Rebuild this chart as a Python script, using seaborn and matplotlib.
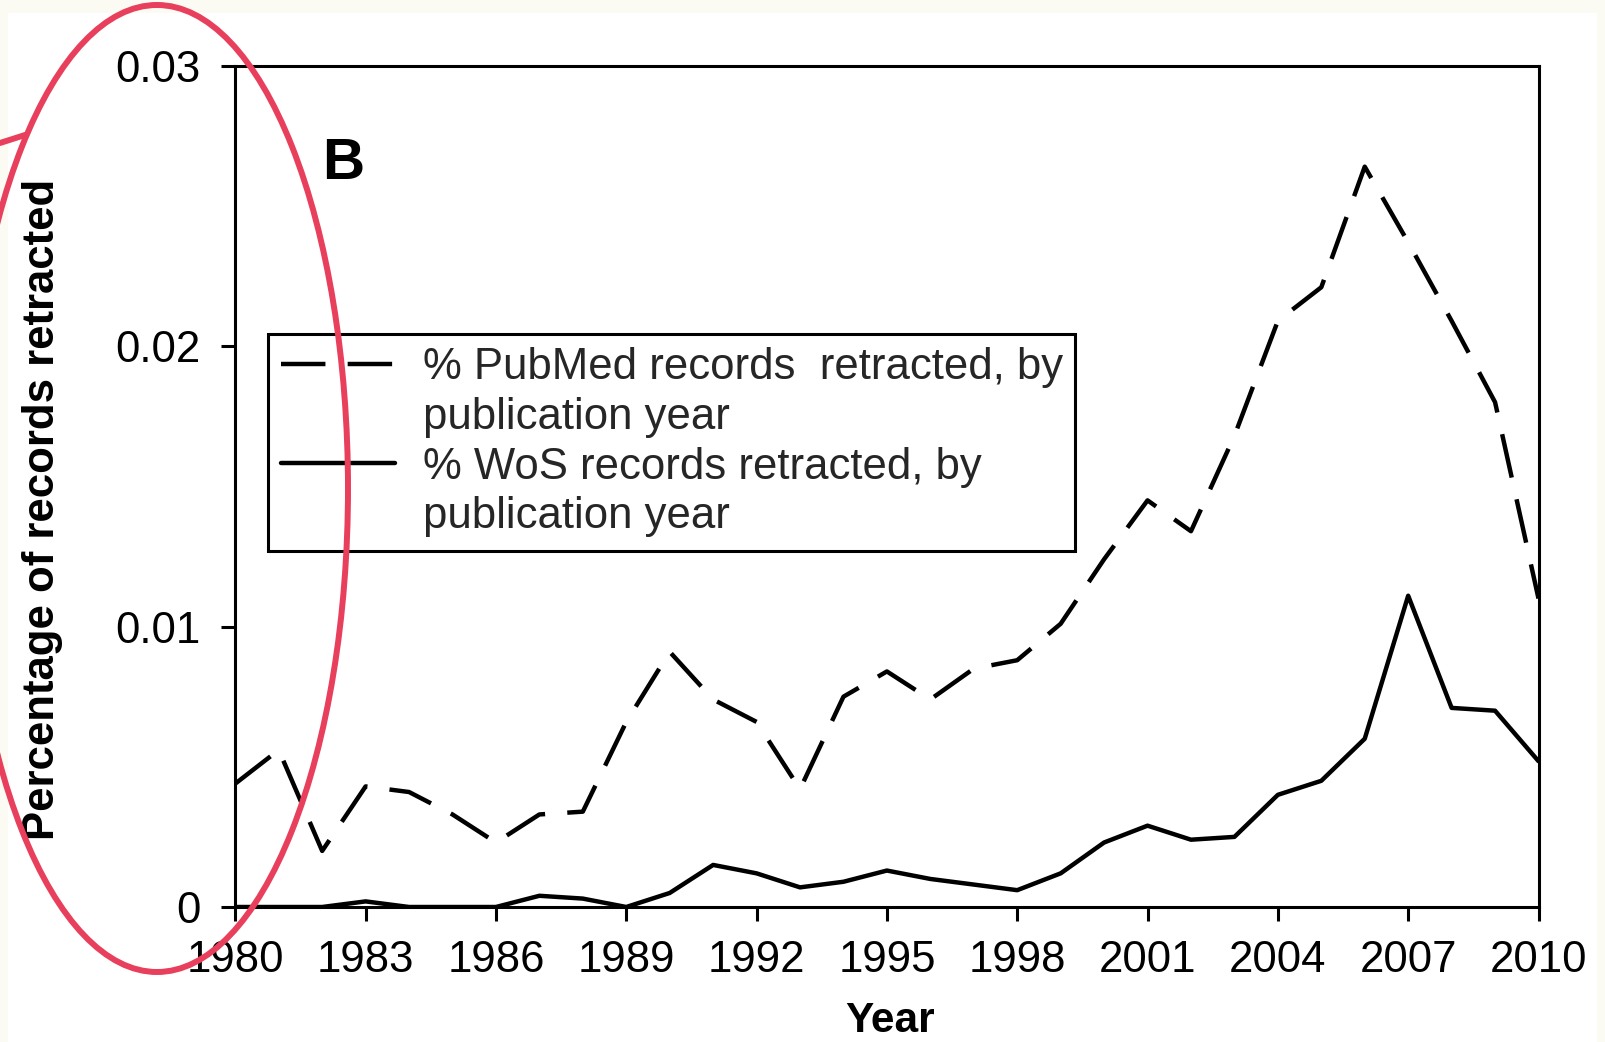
import numpy as np
import pandas as pd
import matplotlib
matplotlib.use("Agg")
import matplotlib.pyplot as plt
import seaborn as sns
from matplotlib.lines import Line2D
from matplotlib.patches import Ellipse, Rectangle

# ---- data ----
years = list(range(1980, 2011))
pubmed = [0.0044, 0.0056, 0.0020, 0.0043, 0.0041, 0.0033, 0.0023, 0.0033, 0.0034, 0.0066,
          0.0091, 0.0074, 0.0066, 0.0042, 0.0075, 0.0084, 0.0074, 0.0085, 0.0088, 0.0101,
          0.0124, 0.0145, 0.0134, 0.0168, 0.0209, 0.0221, 0.0264, 0.0237, 0.0209, 0.0180, 0.0110]
wos = [0.0, 0.0, 0.0, 0.0002, 0.0, 0.0, 0.0, 0.0004, 0.0003, 0.0,
       0.0005, 0.0015, 0.0012, 0.0007, 0.0009, 0.0013, 0.0010, 0.0008, 0.0006, 0.0012,
       0.0023, 0.0029, 0.0024, 0.0025, 0.0040, 0.0045, 0.0060, 0.0111, 0.0071, 0.0070, 0.0052]
series_names = ["PubMed", "WoS"]
legend_labels = ["% PubMed records  retracted, by", "publication year",
                 "% WoS records retracted, by", "publication year"]
x_ticks = list(range(1980, 2011, 3))
y_ticks = [0, 0.01, 0.02, 0.03]
y_tick_labels = ["0", "0.01", "0.02", "0.03"]

df = pd.DataFrame({
    "Year": years * 2,
    "value": pubmed + wos,
    "series": [series_names[0]] * len(years) + [series_names[1]] * len(years),
})

sns.set_style("white")
plt.rcParams["font.family"] = ["Liberation Sans", "DejaVu Sans"]

W, H = 1605, 1042
fig = plt.figure(figsize=(W / 100, H / 100), dpi=100)
fig.patch.set_facecolor("#FBFAF3")
# white page area (cream margins at top / left / right)
fig.add_artist(Rectangle((8 / W, 0), (1597 - 8) / W, (H - 13) / H,
                         transform=fig.transFigure, facecolor="white",
                         edgecolor="none", zorder=-10))

ax = fig.add_axes([235.3 / W, 1 - 907 / H, (1538.5 - 235.3) / W, (907 - 65.7) / H])
ax.set_facecolor("white")

lw = 3.2
dash = (10, 5)
sns.lineplot(data=df, x="Year", y="value", style="series",
             dashes={"PubMed": dash, "WoS": ""}, color="black",
             linewidth=lw, legend=False, ax=ax)

ax.set_xlim(1980, 2010)
ax.set_ylim(0, 0.03)
ax.set_xticks(x_ticks)
ax.set_xticklabels([str(t) for t in x_ticks])
ax.set_yticks(y_ticks)
ax.set_yticklabels(y_tick_labels)
ax.tick_params(axis="both", direction="out", length=10, width=2.2, colors="black",
               labelsize=31.5, top=False, right=False, bottom=True, left=True)
ax.tick_params(axis="x", pad=14)
ax.tick_params(axis="y", pad=15)
for sp in ax.spines.values():
    sp.set_visible(True)
    sp.set_linewidth(2.2)
    sp.set_color("black")

ax.set_xlabel("Year", fontsize=30.5, fontweight="bold", color="black")
ax.set_ylabel("Percentage of records retracted", fontsize=31.5, fontweight="bold", color="black")
ax.xaxis.set_label_coords(0.5024, -0.112)
ax.yaxis.set_label_coords(-0.1325, 0.473)

ax.text(0.0826, 0.883, "B", transform=ax.transAxes, fontsize=42, fontweight="bold",
        ha="center", va="center", color="black")

# legend
h_dash = Line2D([], [], color="black", linewidth=lw, dashes=dash)
h_solid = Line2D([], [], color="black", linewidth=lw)
h_blank = Line2D([], [], color="none")
leg = ax.legend([h_dash, h_blank, h_solid, h_blank], legend_labels,
                loc="upper left", bbox_to_anchor=(0.0251, 0.681 - 0.2556, 0.619, 0.2556),
                mode="expand", borderaxespad=0, fontsize=31.5, frameon=True,
                fancybox=False, framealpha=1, edgecolor="black",
                borderpad=0.3, labelspacing=0.2, handlelength=2.6, handletextpad=0.65)
leg.get_frame().set_linewidth(2.2)

# red annotation ellipse and pointer
fig.add_artist(Ellipse((157 / W, 1 - 488.5 / H), 382 / W, 967 / H,
                       transform=fig.transFigure, facecolor="none",
                       edgecolor="#E8405C", linewidth=4.3, zorder=20))
fig.add_artist(Line2D([0 / W, 25 / W], [1 - 143 / H, 1 - 135 / H],
                      transform=fig.transFigure, color="#E8405C", linewidth=4.3, zorder=20))

fig.savefig("out.png", dpi=100, facecolor=fig.get_facecolor())
